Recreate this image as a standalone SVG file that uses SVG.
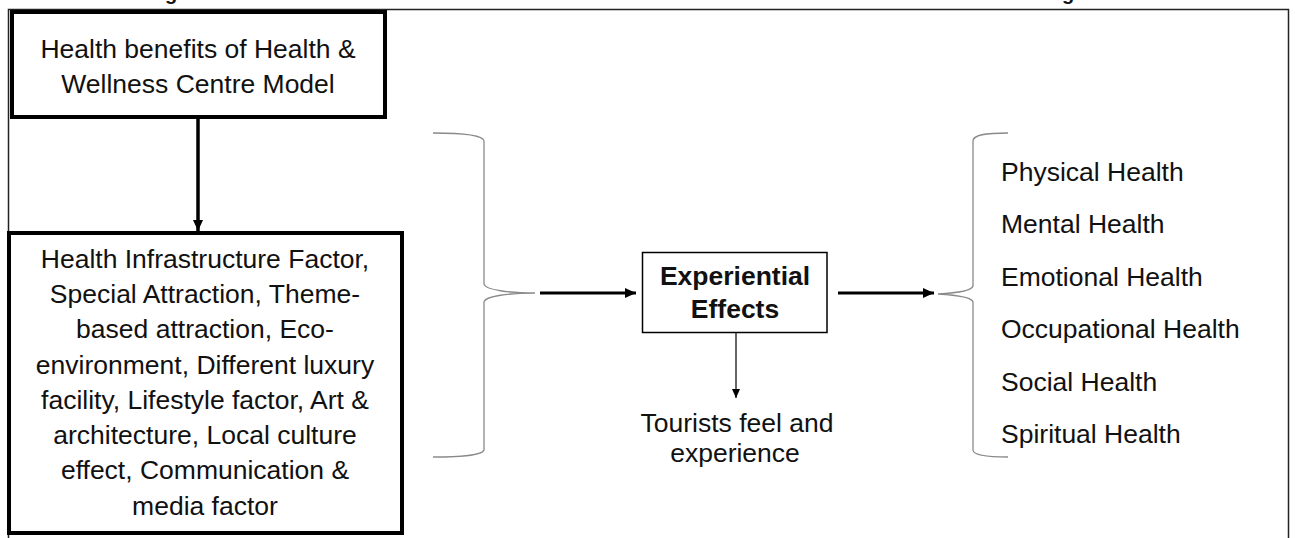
<svg xmlns="http://www.w3.org/2000/svg" width="1295" height="538" viewBox="0 0 1295 538">
<style>
.t{font-family:"Liberation Sans",Arial,sans-serif;font-size:26.5px;fill:#111}
.c{text-anchor:middle}
.b{font-weight:bold}
.box{fill:#fff;stroke:#000}
.brace{fill:none;stroke:#8a8a8a;stroke-width:1.3}
.conn{stroke:#000;fill:none}
</style>
<defs>
<marker id="ah" markerUnits="userSpaceOnUse" markerWidth="12" markerHeight="12" refX="11" refY="6" orient="auto">
<path d="M0,1 L11,6 L0,11 Z" fill="#000"/>
</marker>
<marker id="ahs" markerUnits="userSpaceOnUse" markerWidth="10" markerHeight="10" refX="9" refY="5" orient="auto">
<path d="M0,1 L9,5 L0,9 Z" fill="#000"/>
</marker>
</defs>
<rect width="1295" height="538" fill="#fff"/>
<g id="caption-cut">
<text class="t b" x="165" y="0" style="font-size:20px">g</text>
<text class="t b" x="1062" y="0" style="font-size:20px">g</text>
</g>
<path id="frame" d="M8.5 538 V9.5 H1288.5 V538" fill="none" stroke="#222" stroke-width="1.5"/>
<g id="n-health-benefits">
<rect class="box" x="12" y="12" width="373" height="105" stroke-width="4"/>
<text class="t c" x="198" y="58">Health benefits of Health &amp;</text>
<text class="t c" x="198" y="93">Wellness Centre Model</text>
</g>
<g id="n-factors">
<rect class="box" x="9" y="233" width="393" height="300" stroke-width="4"/>
<text class="t c" x="205" y="268">Health Infrastructure Factor,</text>
<text class="t c" x="205" y="303">Special Attraction, Theme-</text>
<text class="t c" x="205" y="338">based attraction, Eco-</text>
<text class="t c" x="205" y="374">environment, Different luxury</text>
<text class="t c" x="205" y="409">facility, Lifestyle factor, Art &amp;</text>
<text class="t c" x="205" y="444">architecture, Local culture</text>
<text class="t c" x="205" y="479">effect, Communication &amp;</text>
<text class="t c" x="205" y="515">media factor</text>
</g>
<g id="n-left-brace">
<path class="brace" d="M433 133 C460 133 483 135 484 141 V284 C485 290 510 293 535 293 C510 293 485 296 484 302 V450 C483 455 460 457 433 457"/>
</g>
<g id="n-experiential">
<rect class="box" x="642.5" y="252.5" width="184.5" height="80" stroke-width="1.5"/>
<text class="t c b" x="735" y="285">Experiential</text>
<text class="t c b" x="735" y="318">Effects</text>
</g>
<g id="n-tourists">
<text class="t c" x="737" y="432">Tourists feel and</text>
<text class="t c" x="735" y="462">experience</text>
</g>
<g id="n-right-brace">
<path class="brace" d="M1008 133 C985 133 973 135 973 141 V286 C972 291 955 293 938 294 C955 295 972 297 973 302 V450 C973 455 985 457 1008 457"/>
</g>
<g id="n-health-types">
<text class="t" x="1001" y="181">Physical Health</text>
<text class="t" x="1001" y="233">Mental Health</text>
<text class="t" x="1001" y="286">Emotional Health</text>
<text class="t" x="1001" y="338">Occupational Health</text>
<text class="t" x="1001" y="391">Social Health</text>
<text class="t" x="1001" y="443">Spiritual Health</text>
</g>
<g id="connectors">
<line class="conn" x1="198" y1="119" x2="198" y2="231" stroke-width="3.5" marker-end="url(#ah)"/>
<line class="conn" x1="540" y1="293" x2="636" y2="293" stroke-width="3" marker-end="url(#ah)"/>
<line class="conn" x1="838" y1="293" x2="934" y2="293" stroke-width="3" marker-end="url(#ah)"/>
<line class="conn" x1="736" y1="333" x2="736" y2="398" stroke-width="1.2" marker-end="url(#ahs)"/>
</g>
</svg>
